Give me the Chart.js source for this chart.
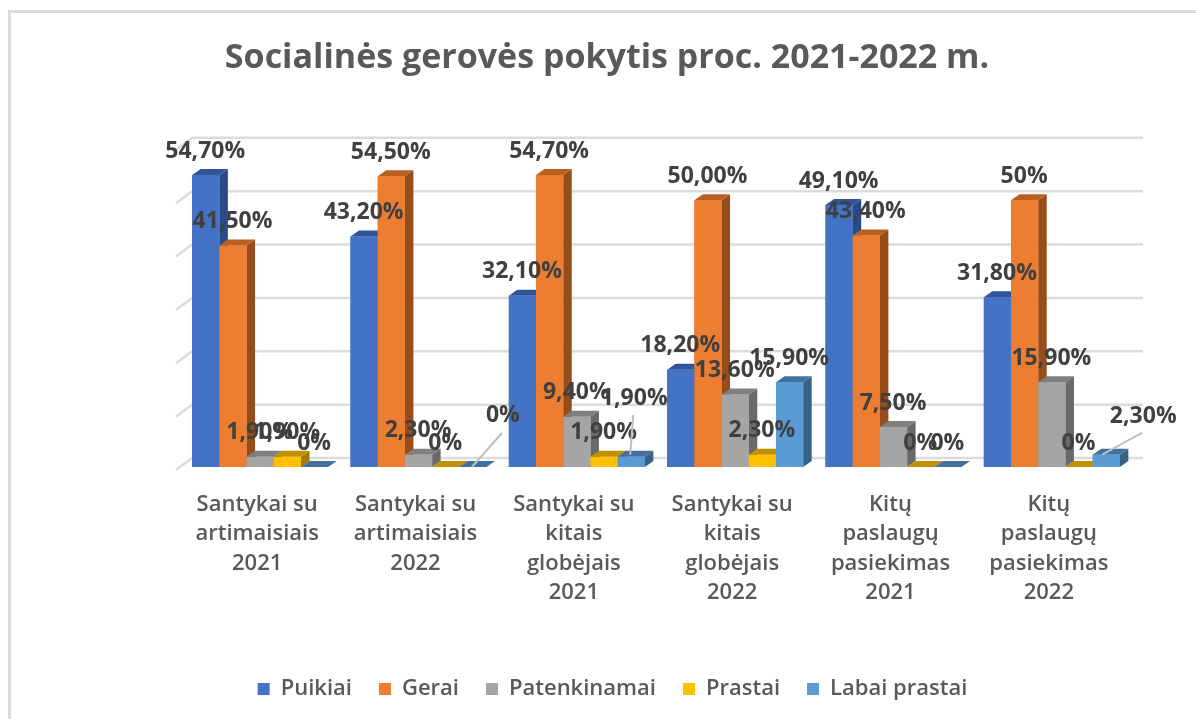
<!DOCTYPE html>
<html><head><meta charset="utf-8">
<style>html,body{margin:0;padding:0;background:#fff;overflow:hidden}
#wrap{position:absolute;left:0;top:0;width:1196px;height:719px}
#frame{position:absolute;left:8px;top:10px;width:1300px;height:800px;border:3px solid #dcdcdc;box-sizing:border-box}
</style>
<script src="https://cdn.jsdelivr.net/npm/chart.js@4"></script>
</head><body>
<div id="wrap"><div id="frame"></div><canvas id="c" width="1196" height="719" style="position:absolute;left:0;top:0"></canvas></div>
<script>
const titleText = 'Socialinės gerovės pokytis proc. 2021-2022 m.';
const categories = [
 ['Santykai su','artimaisiais','2021'],
 ['Santykai su','artimaisiais','2022'],
 ['Santykai su','kitais','globėjais','2021'],
 ['Santykai su','kitais','globėjais','2022'],
 ['Kitų','paslaugų','pasiekimas','2021'],
 ['Kitų','paslaugų','pasiekimas','2022']];
const puikiai      = [54.7,43.2,32.1,18.2,49.1,31.8];
const gerai        = [41.5,54.5,54.7,50.0,43.4,50.0];
const patenkinamai = [1.9,2.3,9.4,13.6,7.5,15.9];
const prastai      = [1.9,0,1.9,2.3,0,0];
const labaiPrastai = [0,0,1.9,15.9,0,2.3];
const puikiaiLabels      = ['54,70%','43,20%','32,10%','18,20%','49,10%','31,80%'];
const geraiLabels        = ['41,50%','54,50%','54,70%','50,00%','43,40%','50%'];
const patenkinamaiLabels = ['1,90%','2,30%','9,40%','13,60%','7,50%','15,90%'];
const prastaiLabels      = ['1,90%','0%','1,90%','2,30%','0%','0%'];
const labaiPrastaiLabels = ['0%','0%','1,90%','15,90%','0%','2,30%'];
const yTicks = [0,10,20,30,40,50,60];

const series = [
 {label:'Puikiai',data:puikiai,labels:puikiaiLabels,color:'#4472c4',side:'#2a4a85',top:'#2f5497'},
 {label:'Gerai',data:gerai,labels:geraiLabels,color:'#ed7d31',side:'#974d1b',top:'#b95f20'},
 {label:'Patenkinamai',data:patenkinamai,labels:patenkinamaiLabels,color:'#a5a5a5',side:'#696969',top:'#7f7f7f'},
 {label:'Prastai',data:prastai,labels:prastaiLabels,color:'#ffc000',side:'#a37b00',top:'#bf9000'},
 {label:'Labai prastai',data:labaiPrastai,labels:labaiPrastaiLabels,color:'#5b9bd5',side:'#376285',top:'#41719c'}
];
const DX=8.5, DY=6;
// labels moved away from their bars, with a leader line: [series, category, label dx, label dy, line x1,y1,x2,y2 relative to bar top centre]
const calloutLabels = [
 [4,1,30,-52,  29,-34, -1,0],
 [4,2,3,-58,   2,-42, -1,-2],
 [4,5,37,-38,  36,-22, -4,0]
];

const threeD = {
 id:'threeD',
 afterLayout(chart){
  chart.titleBlock.left-=49; chart.titleBlock.right-=49;
  chart.legend.left-=43.5; chart.legend.right-=43.5;
  chart.legend.top-=9; chart.legend.bottom-=9;
 },
 beforeDatasetsDraw(chart){
  const {ctx,scales:{x,y}}=chart;
  ctx.save();
  ctx.strokeStyle='#dcdcdc';ctx.lineWidth=2.5;
  yTicks.forEach(t=>{
   const py=y.getPixelForValue(t);
   ctx.beginPath();ctx.moveTo(x.left-5,py+3);ctx.lineTo(x.left+11,py-9);ctx.lineTo(x.right+12,py-9);ctx.stroke();
  });
  ctx.restore();
 },
 afterDatasetsDraw(chart){
  const {ctx}=chart;
  ctx.save();
  series.forEach((s,di)=>{
   chart.getDatasetMeta(di).data.forEach(b=>{
    const l=b.x-b.width/2,r=b.x+b.width/2,t=b.y,base=b.base;
    ctx.fillStyle=s.side;
    ctx.beginPath();ctx.moveTo(r,t);ctx.lineTo(r+DX,t-DY);ctx.lineTo(r+DX,base-DY);ctx.lineTo(r,base);ctx.closePath();ctx.fill();
    ctx.fillStyle=s.top;
    ctx.beginPath();ctx.moveTo(l,t);ctx.lineTo(l+DX,t-DY);ctx.lineTo(r+DX,t-DY);ctx.lineTo(r,t);ctx.closePath();ctx.fill();
    ctx.fillStyle=s.color;
    ctx.fillRect(l,t,b.width,base-t);
   });
  });
  ctx.font='700 23px "Open Sans"';
  ctx.textAlign='center';ctx.textBaseline='middle';
  series.forEach((s,di)=>{
   chart.getDatasetMeta(di).data.forEach((b,i)=>{
    const c=calloutLabels.find(k=>k[0]===di&&k[1]===i);
    const px=b.x, py=b.y;
    ctx.fillStyle='#404040';
    if(c){
     ctx.strokeStyle='#bfbfbf';ctx.lineWidth=2;
     ctx.beginPath();ctx.moveTo(px+c[4],py+c[5]);ctx.lineTo(px+c[6],py+c[7]);ctx.stroke();
     ctx.fillText(s.labels[i],px+c[2],py+c[3]);
    } else {
     ctx.fillText(s.labels[i],px-0.5,py-24);
    }
   });
  });
  ctx.restore();
 }
};

new Chart(document.getElementById('c'),{
 type:'bar',
 data:{labels:categories,datasets:series.map(s=>({label:s.label,data:s.data,backgroundColor:s.color,borderWidth:0}))},
 options:{
  responsive:false,animation:false,
  layout:{padding:{left:181,right:65,top:0,bottom:0}},
  datasets:{bar:{categoryPercentage:0.859,barPercentage:1}},
  plugins:{
   tooltip:{enabled:false},
   title:{display:true,text:titleText,color:'#595959',font:{family:'"Open Sans"',size:34,weight:'700',lineHeight:1.2},padding:{top:38,bottom:68}},
   legend:{position:'bottom',labels:{color:'#595959',boxWidth:12,boxHeight:12,padding:27,font:{family:'"Open Sans"',size:22,weight:'600'}}}
  },
  scales:{
   x:{grid:{display:false},border:{display:false},
      afterFit(s){s.height=193;},
      ticks:{color:'#595959',maxRotation:0,autoSkip:false,padding:15,labelOffset:-3,font:{family:'"Open Sans"',size:22,weight:'600',lineHeight:1.34}}},
   y:{display:false,min:0,max:60}
  }
 },
 plugins:[threeD]
});
</script>
</body></html>
